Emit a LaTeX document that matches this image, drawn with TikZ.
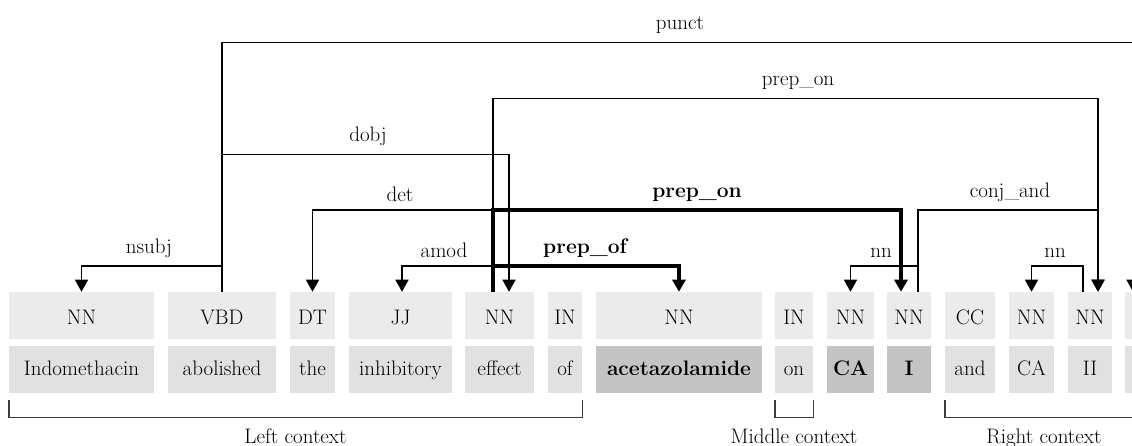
\documentclass[tikz,border=0pt]{standalone}
\usetikzlibrary{arrows.meta,calc}
\definecolor{tagfill}{HTML}{EBEBEB}
\definecolor{wordfill}{HTML}{E1E1E1}
\definecolor{entfill}{HTML}{C4C4C4}
\definecolor{brk}{HTML}{3C3C3C}
\begin{document}
\begin{tikzpicture}[x=1pt,y=-1pt,
  font=\fontsize{21}{25}\selectfont,
  tagbox/.style={rectangle,fill=tagfill,inner sep=0pt,minimum height=46.7pt,
    text height=20pt,text depth=2.6pt},
  wordbox/.style={rectangle,fill=wordfill,inner sep=0pt,minimum height=46.7pt,
    text height=17pt,text depth=4.4pt},
  entbox/.style={wordbox,fill=entfill,font=\fontsize{21}{25}\selectfont\bfseries},
  dep/.style={line width=1.3pt,-{Triangle[length=12pt,width=13pt]}},
  bolddep/.style={line width=3.6pt,-{Triangle[length=12pt,width=13pt]}},
  lab/.style={anchor=south,inner sep=0pt},
  boldlab/.style={lab,font=\fontsize{21}{25}\selectfont\bfseries},
  bracket/.style={draw=brk,line width=1.4pt},
  ctx/.style={anchor=base,inner sep=0pt}]
\useasboundingbox (0,0) rectangle (1132,446);
\clip (0,0) rectangle (1132,446);

% part-of-speech tags
\node[tagbox,minimum width=145pt] (t1)  at (81.5,315.3)  {NN};
\node[tagbox,minimum width=108pt] (t2)  at (222,315.3)   {VBD};
\node[tagbox,minimum width=45pt]  (t3)  at (312.5,315.3) {DT};
\node[tagbox,minimum width=103pt] (t4)  at (400.5,315.3) {JJ};
\node[tagbox,minimum width=69pt]  (t5)  at (499.5,315.3) {NN};
\node[tagbox,minimum width=34pt]  (t6)  at (565,315.3)   {IN};
\node[tagbox,minimum width=166pt] (t7)  at (679,315.3)   {NN};
\node[tagbox,minimum width=38pt]  (t8)  at (794,315.3)   {IN};
\node[tagbox,minimum width=47pt]  (t9)  at (850.5,315.3) {NN};
\node[tagbox,minimum width=44pt]  (t10) at (909,315.3)   {NN};
\node[tagbox,minimum width=50pt]  (t11) at (970,315.3)   {CC};
\node[tagbox,minimum width=45pt]  (t12) at (1031.5,315.3){NN};
\node[tagbox,minimum width=44pt]  (t13) at (1090,315.3)  {NN};
\node[tagbox,minimum width=30pt]  (t14) at (1140,315.3)  {};

% words
\node[wordbox,minimum width=145pt] (w1)  at (81.5,369.3)  {Indomethacin};
\node[wordbox,minimum width=108pt] (w2)  at (222,369.3)   {abolished};
\node[wordbox,minimum width=45pt]  (w3)  at (312.5,369.3) {the};
\node[wordbox,minimum width=103pt] (w4)  at (400.5,369.3) {inhibitory};
\node[wordbox,minimum width=69pt]  (w5)  at (499.5,369.3) {effect};
\node[wordbox,minimum width=34pt]  (w6)  at (565,369.3)   {of};
\node[entbox,minimum width=166pt]  (w7)  at (679,369.3)   {acetazolamide};
\node[wordbox,minimum width=38pt]  (w8)  at (794,369.3)   {on};
\node[entbox,minimum width=47pt]   (w9)  at (850.5,369.3) {CA};
\node[entbox,minimum width=44pt]   (w10) at (909,369.3)   {I};
\node[wordbox,minimum width=50pt]  (w11) at (970,369.3)   {and};
\node[wordbox,minimum width=45pt]  (w12) at (1031.5,369.3){CA};
\node[wordbox,minimum width=44pt]  (w13) at (1090,369.3)  {II};
\node[wordbox,minimum width=30pt]  (w14) at (1140,369.3)  {};

% ordinary dependencies
\draw[dep] (t2.north) |- ([xshift=-7pt]t14.north |- 0,42.7) -- ([xshift=-7pt]t14.north);
\draw[dep] ([xshift=-6.5pt]t5.north) |- ([xshift=8pt]t13.north |- 0,98.7) -- ([xshift=8pt]t13.north);
\draw[dep] (t2.north) |- ([xshift=9.5pt]t5.north |- 0,154.3) -- ([xshift=9.5pt]t5.north);
\draw[dep] ([xshift=-6.5pt]t5.north) |- (t3.north |- 0,210) -- (t3.north);
\draw[dep] ([xshift=9pt]t10.north) |- ([xshift=8pt]t13.north |- 0,210) -- ([xshift=8pt]t13.north);
\draw[dep] (t2.north) |- (t1.north |- 0,266) -- (t1.north);
\draw[dep] ([xshift=-6.5pt]t5.north) |- ([xshift=1.5pt]t4.north |- 0,266) -- ([xshift=1.5pt]t4.north);
\draw[dep] ([xshift=9pt]t10.north) |- (t9.north |- 0,266) -- (t9.north);
\draw[dep] ([xshift=-7pt]t13.north) |- (t12.north |- 0,266) -- (t12.north);

% dependencies on the path between the entities
\draw[bolddep] ([xshift=-6.5pt]t5.north) |- (t7.north |- 0,266) -- (t7.north);
\draw[bolddep] ([xshift=-6.5pt]t5.north) |- ([xshift=-8pt]t10.north |- 0,210) -- ([xshift=-8pt]t10.north);

% relation labels
\node[lab] (l-punct)   at (680,34)    {punct};
\node[lab] (l-prepon)  at (798,90)    {prep\textunderscore on};
\node[lab] (l-dobj)    at (368,145.5) {dobj};
\node[lab] (l-det)     at (400,201.5) {det};
\node[boldlab] (l-bprepon) at (697,201.5) {prep\textunderscore on};
\node[lab] (l-conj)    at (1010,201.5) {conj\textunderscore and};
\node[lab] (l-nsubj)   at (149,257.5) {nsubj};
\node[lab] (l-amod)    at (444,257.5) {amod};
\node[boldlab] (l-bprepof) at (585,257.5) {prep\textunderscore of};
\node[lab] (l-nn1)     at (881,257.5) {nn};
\node[lab] (l-nn2)     at (1055,257.5) {nn};

% context brackets
\draw[bracket] (w1.west |- 0,400) -- (w1.west |- 0,417.5) -| (w6.east |- 0,400);
\draw[bracket] (w8.west |- 0,400) -- (w8.west |- 0,417.5) -| (w8.east |- 0,400);
\draw[bracket] (w11.west |- 0,400) -- (w11.west |- 0,417.5) -| (w14.east |- 0,400);
\node[ctx] (c-left)  at (295.5,443) {Left context};
\node[ctx] (c-mid)   at (794,443)   {Middle context};
\node[ctx] (c-right) at (1044,443)  {Right context};
\end{tikzpicture}
\end{document}
